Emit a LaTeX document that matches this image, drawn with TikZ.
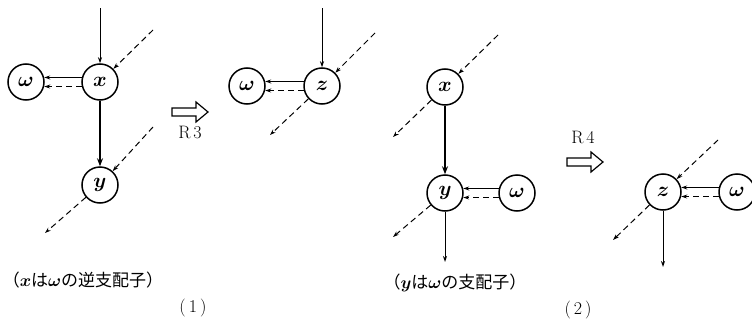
\documentclass[tikz,border=0pt]{standalone}
\usepackage{fontspec}
\newfontfamily\jpfont{Noto Sans CJK JP}
\usetikzlibrary{arrows.meta}
\tikzset{
  vtx/.style={circle,draw,line width=1.5pt,minimum size=36pt,inner sep=0pt,
    font=\fontsize{20}{20}\selectfont\boldmath},
  ln/.style={line width=1pt,-{Stealth[length=6pt,width=4pt]}},
  dln/.style={ln,dash pattern=on 6pt off 4pt},   % dashed edge
  thk/.style={line width=2.2pt,-{Stealth[length=8pt,width=6pt]}},
  bigarr/.style={draw,line width=1.2pt,line join=miter},  % hollow rule arrow
  rlbl/.style={font=\fontsize{18}{18}\selectfont},
  captxt/.style={font=\jpfont\fontsize{17}{17}\selectfont\boldmath},
}
\begin{document}
\begin{tikzpicture}[x=1pt,y=-1pt]
  \useasboundingbox (0,0) rectangle (752,324);
  \clip (0,0) rectangle (752,324);
  % ---- (1) before R3 ----
  \node[vtx] (x1) at (100,82) {$x$};
  \node[vtx] (w1) at (26,82) {$\omega$};
  \node[vtx] (y1) at (100,185) {$y$};
  \coordinate (x1top) at (100,8);
  \coordinate (x1in) at (153,30);
  \coordinate (y1in) at (153,127);
  \coordinate (y1out) at (45,233);
  \draw[ln] (x1top) -- (x1);
  \draw[dln] (x1in) -- (x1);
  \draw[ln] (x1.166) -- (w1.14);
  \draw[dln] (x1.194) -- (w1.-14);
  \draw[thk] (x1) -- (y1);
  \draw[dln] (y1in) -- (y1);
  \draw[dln] (y1) -- (y1out);
  % R3
  \draw[bigarr] (172,108) -- ++(24,0) -- ++(0,-6) -- ++(12,10)
    -- ++(-12,10) -- ++(0,-6) -- ++(-24,0) -- cycle;
  \node[rlbl] (r3) at (190,132) {R\,3};
  % ---- (1) after R3 ----
  \node[vtx] (z1) at (322,86) {$z$};
  \node[vtx] (w1b) at (247,86) {$\omega$};
  \coordinate (z1top) at (322,8);
  \coordinate (z1in) at (375,33);
  \coordinate (z1out) at (270,135);
  \draw[ln] (z1top) -- (z1);
  \draw[dln] (z1in) -- (z1);
  \draw[dln] (z1) -- (z1out);
  \draw[ln] (z1.166) -- (w1b.14);
  \draw[dln] (z1.194) -- (w1b.-14);
  % ---- (2) before R4 ----
  \node[vtx] (x2) at (445,87) {$x$};
  \node[vtx] (y2) at (445,193) {$y$};
  \node[vtx] (w2) at (517,193) {$\omega$};
  \coordinate (x2in) at (498,35);
  \coordinate (x2out) at (393,137);
  \coordinate (y2out) at (393,237);
  \coordinate (y2bot) at (445,262);
  \draw[dln] (x2in) -- (x2);
  \draw[dln] (x2) -- (x2out);
  \draw[thk] (x2) -- (y2);
  \draw[ln] (w2.166) -- (y2.14);
  \draw[dln] (w2.194) -- (y2.-14);
  \draw[dln] (y2) -- (y2out);
  \draw[ln] (y2) -- (y2bot);
  % R4
  \draw[bigarr] (567,158) -- ++(24,0) -- ++(0,-6) -- ++(12,10)
    -- ++(-12,10) -- ++(0,-6) -- ++(-24,0) -- cycle;
  \node[rlbl] (r4) at (583,137) {R\,4};
  % ---- (2) after R4 ----
  \node[vtx] (z2) at (663,192) {$z$};
  \node[vtx] (w2b) at (737,192) {$\omega$};
  \coordinate (z2in) at (718,140);
  \coordinate (z2out) at (613,240);
  \coordinate (z2bot) at (663,267);
  \draw[dln] (z2in) -- (z2);
  \draw[dln] (z2) -- (z2out);
  \draw[ln] (z2) -- (z2bot);
  \draw[ln] (w2b.166) -- (z2.14);
  \draw[dln] (w2b.194) -- (z2.-14);
  % captions
  \node[captxt] (c1) at (83,280) {（$x$は$\omega$の逆支配子）};
  \node[captxt] (c2) at (455,283) {（$y$は$\omega$の支配子）};
  \node[rlbl] (n1) at (193,308) {(\,1\,)};
  \node[rlbl] (n2) at (578,310) {(\,2\,)};
\end{tikzpicture}
\end{document}
